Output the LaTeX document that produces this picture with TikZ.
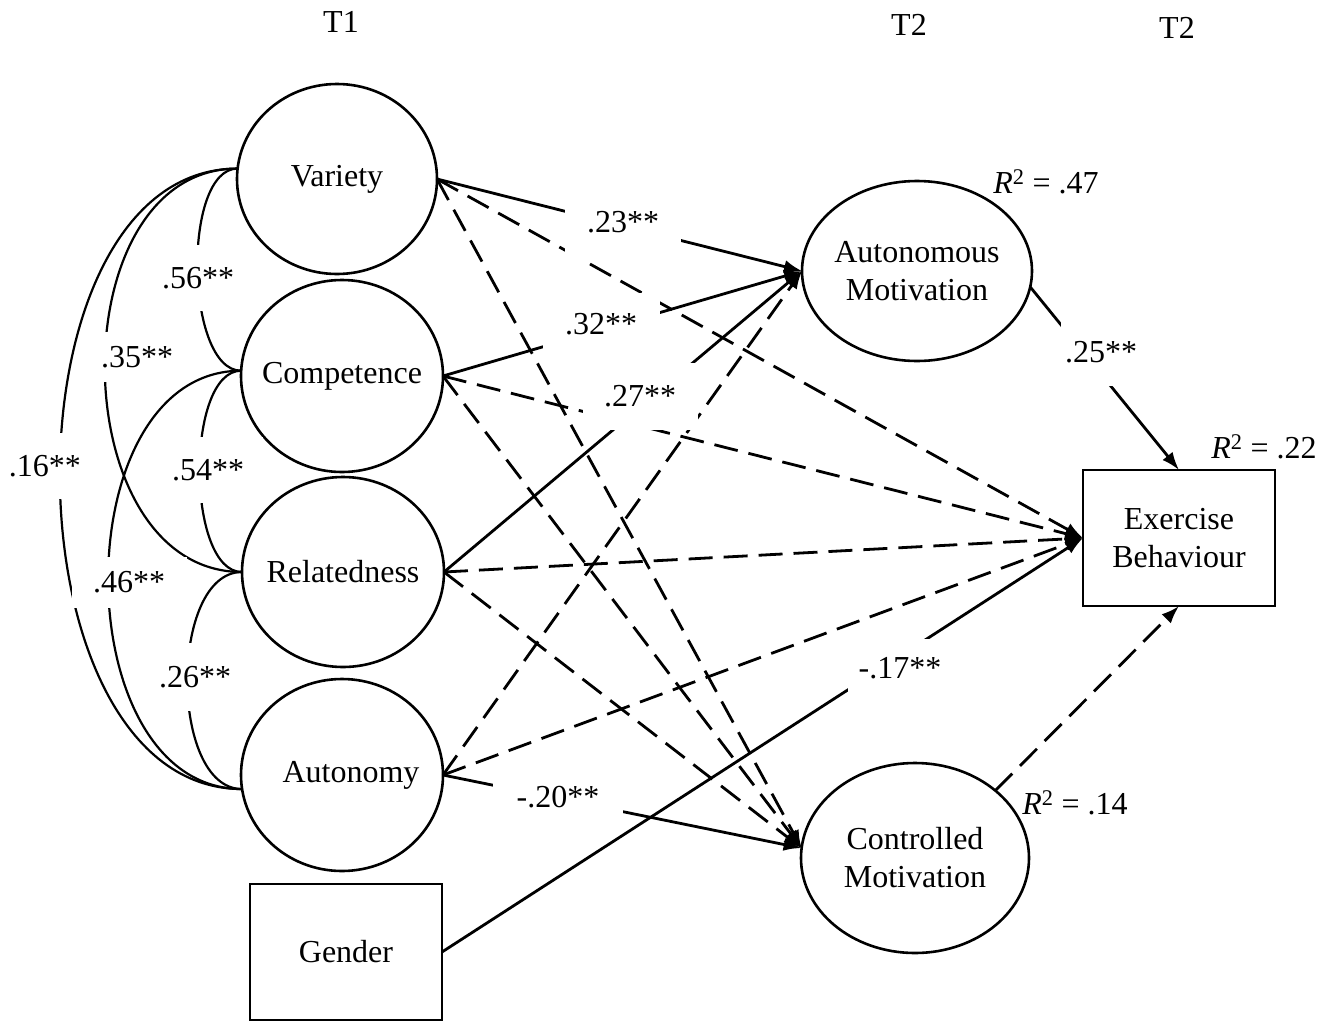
\documentclass[tikz,border=0pt]{standalone}
\usepackage{fontspec}
\setmainfont{Liberation Serif}
\usetikzlibrary{shapes.geometric,arrows.meta}
\begin{document}
\begin{tikzpicture}[x=1pt,y=-1pt,
  every node/.style={font=\fontsize{32}{38}\selectfont},
  latent/.style={ellipse, draw, line width=2.6pt, inner xsep=-30pt, inner ysep=0pt, outer sep=0pt, align=center},
  obs/.style={rectangle, draw, line width=2.6pt, inner sep=0pt, outer sep=0pt, align=center, minimum width=192pt, minimum height=136pt},
  reg/.style={line width=2.8pt, -{Latex[length=18pt,width=13pt]}},
  dreg/.style={reg, dash pattern=on 24pt off 11pt},
  cov/.style={line width=2.2pt},
  lbl/.style={fill=white, inner sep=0pt, align=center},
  rsq/.style={inner sep=0pt}
]
\useasboundingbox (0,0) rectangle (1325,1023);

% headings
\node (h1) at (341,22) {T1};
\node (h2) at (909,25) {T2};
\node (h3) at (1177,28) {T2};

% predictors
\node[latent, minimum width=200pt, minimum height=190pt] (var) at (337,179) {Variety};
\node[latent, minimum width=202pt, minimum height=192pt] (comp) at (342,376) {Competence};
\node[latent, minimum width=202pt, minimum height=190pt] (rel) at (343,572) {Relatedness};
\node[latent, minimum width=202pt, minimum height=192pt] (aut) at (342,775) {\hspace*{18pt}Autonomy};
\node[obs] (gen) at (346,952) {Gender};

% outcomes
\node[latent, minimum width=230pt, minimum height=180pt] (am) at (917,271) {Autonomous\\Motivation};
\node[latent, minimum width=228pt, minimum height=190pt] (cm) at (915,858) {Controlled\\Motivation};
\node[obs] (eb) at (1179,538) {Exercise\\Behaviour};

% covariances
\draw[cov] (var.174) .. controls +(-56,0) and +(-56,0) .. (comp.177);
\draw[cov] (var.174) .. controls +(-180,0) and +(-180,0) .. (rel.180);
\draw[cov] (var.174) .. controls +(-240,0) and +(-240,0) .. (aut.188);
\draw[cov] (comp.177) .. controls +(-56,0) and +(-56,0) .. (rel.180);
\draw[cov] (comp.177) .. controls +(-178,0) and +(-178,0) .. (aut.188);
\draw[cov] (rel.180) .. controls +(-73,0) and +(-73,0) .. (aut.188);

% regressions
\draw[reg]  (var.east) -- (am.west);
\draw[dreg] (var.east) -- (eb.west);
\draw[dreg] (var.east) -- (cm.175);
\draw[reg]  (comp.east) -- (am.west);
\draw[dreg] (comp.east) -- (eb.west);
\draw[dreg] (comp.east) -- (cm.175);
\draw[reg]  (rel.east) -- (am.west);
\draw[dreg] (rel.east) -- (eb.west);
\draw[dreg] (rel.east) -- (cm.175);
\draw[dreg] (aut.east) -- (am.west);
\draw[dreg] (aut.east) -- (eb.west);
\draw[reg]  (aut.east) -- (cm.175);
\draw[reg]  (gen.east) -- (eb.west);
\draw[reg]  (am.352) -- (eb.north);
\draw[dreg] (cm.40) -- (eb.south);

% covariance labels
\node[lbl, minimum width=72pt, minimum height=66pt] (l56) at (198,278) {.56**};
\node[lbl, minimum width=84pt, minimum height=50pt] (l35) at (137,357) {.35**};
\node[lbl, minimum width=76pt, minimum height=66pt] (l16) at (45,466) {.16**};
\node[lbl, minimum width=110pt, minimum height=66pt] (l54) at (208,470) {.54**};
\node[lbl, minimum width=115pt, minimum height=51pt] (l46) at (129,582) {.46**};
\node[lbl, minimum width=74pt, minimum height=68pt] (l26) at (195,677) {.26**};

% path labels
\node[lbl, minimum width=116pt, minimum height=76pt] (l23) at (623,222) {.23**};
\node[lbl, minimum width=117pt, minimum height=62pt] (l32) at (601,324) {.32**};
\node[lbl, minimum width=115pt, minimum height=67pt] (l27) at (640,396) {.27**};
\node[lbl, minimum width=80pt, minimum height=68pt] (l25) at (1101,352) {.25**};
\node[lbl, minimum width=104pt, minimum height=58pt] (l17) at (900,668) {-.17**};
\node[lbl, minimum width=130pt, minimum height=46pt] (l20) at (558,797) {-.20**};

% R squared
\node[rsq] (r47) at (1046,182) {\textit{R}\textsuperscript{2} = .47};
\node[rsq] (r22) at (1264,447) {\textit{R}\textsuperscript{2} = .22};
\node[rsq] (r14) at (1075,803) {\textit{R}\textsuperscript{2} = .14};
\end{tikzpicture}
\end{document}
